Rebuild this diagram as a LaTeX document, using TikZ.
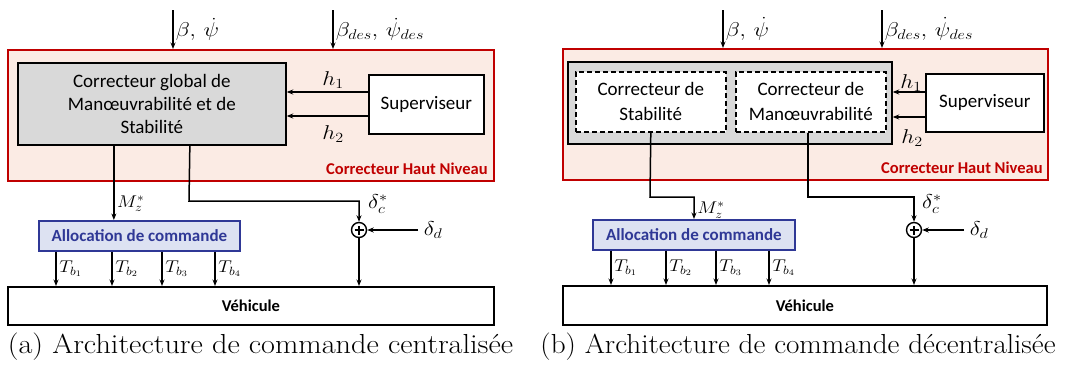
\RequirePackage{fix-cm}
\documentclass[tikz,border=0pt]{standalone}
\usepackage{fontspec}
\newfontfamily\carl{Carlito}
\usetikzlibrary{arrows.meta}
\definecolor{hlred}{RGB}{192,0,0}
\definecolor{hlfill}{RGB}{251,235,228}
\definecolor{grayfill}{RGB}{217,217,217}
\definecolor{alblue}{RGB}{47,56,150}
\definecolor{alfill}{RGB}{221,226,242}
\newcommand\mx[1]{\scalebox{1.15}[1]{$#1$}}
\newcommand\tx[1]{\scalebox{1.12}[1]{$#1$}}
\begin{document}
\begin{tikzpicture}[x=1pt,y=-1pt,
  arr/.style={-{Stealth[length=6.5pt,width=5pt]}, line width=1.5pt},
  hlbox/.style={draw=hlred, fill=hlfill, line width=1.8pt, anchor=north west, inner sep=0pt},
  hltext/.style={text=hlred, font=\carl\bfseries\fontsize{16.5}{19}\selectfont, inner sep=0pt},
  boxtext/.style={font=\carl\fontsize{19}{23}\selectfont, align=center},
  graybox/.style={boxtext, draw=black, fill=grayfill, line width=1.7pt, anchor=north west, inner sep=0pt},
  whitebox/.style={boxtext, draw=black, fill=white, line width=1.7pt, anchor=north west, inner sep=0pt},
  dashbox/.style={boxtext, font=\carl\fontsize{19}{25}\selectfont, draw=black, fill=white, line width=1.6pt, dash pattern=on 5pt off 3pt, anchor=north west, inner sep=0pt},
  allocbox/.style={draw=alblue, fill=alfill, line width=1.7pt, anchor=north west, inner sep=0pt, text=alblue, font=\carl\bfseries\fontsize{17}{19}\selectfont},
  vehbox/.style={draw=black, fill=white, line width=1.8pt, anchor=north west, inner sep=0pt, font=\carl\bfseries\fontsize{16.5}{19}\selectfont},
  sumnode/.style={circle, draw=black, fill=white, line width=1.4pt, minimum size=15pt, inner sep=0pt,
    path picture={\draw[line width=1.1pt] ([xshift=-4.5pt]path picture bounding box.center) -- ([xshift=4.5pt]path picture bounding box.center);
                  \draw[line width=1.1pt] ([yshift=-4.5pt]path picture bounding box.center) -- ([yshift=4.5pt]path picture bounding box.center);}},
  mlbl/.style={font=\fontsize{20}{22}\selectfont, inner sep=2pt},
  tlbl/.style={font=\fontsize{17}{19}\selectfont, inner sep=2.5pt},
  captext/.style={font=\fontsize{27.5}{30}\selectfont, inner sep=0pt, anchor=base}
]
\useasboundingbox (0,0) rectangle (1068,372);

% ================= LEFT PANEL =================
\node[hlbox, minimum width=486pt, minimum height=131pt] (hl1) at (7,49) {};
\node[hltext, anchor=south east] (hlt1) at ([shift={(-7pt,7pt)}]hl1.south east) {Correcteur Haut Niveau};
\node[graybox, minimum width=268pt, minimum height=82pt] (gc1) at (17,62) {Correcteur global de\\Manœuvrabilité et de\\Stabilité};
\node[whitebox, minimum width=115pt, minimum height=59pt] (sup1) at (368,74) {Superviseur};
\coordinate (yh1) at (0,92);
\coordinate (yh2) at (0,116);
\draw[arr] (sup1.west |- yh1) -- (gc1.east |- yh1);
\draw[arr] (sup1.west |- yh2) -- (gc1.east |- yh2);
\node[mlbl] (h1l) at (333,80) {\mx{h_1}};
\node[mlbl] (h2l) at (333,134) {\mx{h_2}};

\coordinate (in1a) at (173,10);
\coordinate (in1b) at (333,10);
\draw[arr] (in1a) -- (in1a |- hl1.north) node[midway, right, mlbl] {\mx{\beta,\,\dot\psi}};
\draw[arr] (in1b) -- (in1b |- hl1.north) node[midway, right, mlbl] {\mx{\beta_{des},\,\dot\psi_{des}}};

\node[allocbox, minimum width=201pt, minimum height=30pt] (al1) at (38,220) {Allocation de commande};
\node[vehbox, minimum width=486pt, minimum height=38pt] (veh1) at (7,286) {Véhicule};
\node[sumnode] (sum1) at (359,230) {};

\coordinate (o1a) at ([xshift=-38pt]gc1.south);
\coordinate (o1b) at ([xshift=38pt]gc1.south);
\draw[arr] (o1a) -- (o1a |- al1.north) node[pos=0.78, right, tlbl] {\tx{M_z^*}};
\coordinate (bend1) at (189,201);
\draw[arr] (o1b) -- (bend1) -| (sum1);
\node[mlbl, anchor=south west, inner sep=0pt] (dc1) at ([shift={(9pt,8pt)}]sum1.north) {\mx{\delta_c^*}};
\coordinate (dd1) at (418,230);
\draw[arr] (dd1) node[right, mlbl, inner sep=5pt] (ddl1) {\mx{\delta_d}} -- (sum1);
\draw[arr] (sum1) -- (sum1 |- veh1.north);
\foreach \x/\i in {56/1,112/2,162/3,215/4}{
  \coordinate (tcx) at (\x,0);
  \draw[arr] (tcx |- al1.south) -- (tcx |- veh1.north) node[midway, right, tlbl] {\tx{T_{b_\i}}};
}
\node[captext] (cap1) at (260.5,353) {\scalebox{1.1}[1]{(a) Architecture de commande centralisée}};

% ================= RIGHT PANEL =================
\node[hlbox, minimum width=485pt, minimum height=131pt] (hl2) at (562,48) {};
\node[hltext, anchor=south east] (hlt2) at ([shift={(-6pt,7pt)}]hl2.south east) {Correcteur Haut Niveau};
\node[graybox, minimum width=324pt, minimum height=82pt] (gc2) at (567,61) {};
\node[dashbox, minimum width=150pt, minimum height=60pt] (ds2a) at (575,71) {Correcteur de\\Stabilité};
\node[dashbox, minimum width=150pt, minimum height=60pt] (ds2b) at (735,71) {Correcteur de\\Manœuvrabilité};
\node[whitebox, minimum width=118pt, minimum height=58pt] (sup2) at (925,73) {Superviseur};
\coordinate (yh3) at (0,92);
\coordinate (yh4) at (0,117);
\draw[arr] (sup2.west |- yh3) -- (gc2.east |- yh3);
\draw[arr] (sup2.west |- yh4) -- (gc2.east |- yh4);
\node[mlbl] (h3l) at (911,83) {\mx{h_1}};
\node[mlbl] (h4l) at (912,138) {\mx{h_2}};

\coordinate (in2a) at (723,10);
\coordinate (in2b) at (882,10);
\draw[arr] (in2a) -- (in2a |- hl2.north) node[midway, right, mlbl] {\mx{\beta,\,\dot\psi}};
\draw[arr] (in2b) -- (in2b |- hl2.north) node[midway, right, mlbl] {\mx{\beta_{des},\,\dot\psi_{des}}};

\node[allocbox, minimum width=202pt, minimum height=30pt] (al2) at (592,219) {Allocation de commande};
\node[vehbox, minimum width=484pt, minimum height=39pt] (veh2) at (562,285) {Véhicule};
\node[sumnode] (sum2) at (914,230) {};

\coordinate (bend2a) at (650,197);
\coordinate (bend2b) at (694,197);
\draw[arr] (ds2a.south) -- (bend2a) -- (bend2b) -- (bend2b |- al2.north) node[pos=0.6, right, tlbl] {\tx{M_z^*}};
\coordinate (bend2c) at (808,197);
\draw[arr] (ds2b.south -| bend2c) -- (bend2c) -| (sum2);
\node[mlbl, anchor=south west, inner sep=0pt] (dc2) at ([shift={(8pt,8pt)}]sum2.north) {\mx{\delta_c^*}};
\coordinate (dd2) at (964,230);
\draw[arr] (dd2) node[right, mlbl, inner sep=5pt] (ddl2) {\mx{\delta_d}} -- (sum2);
\draw[arr] (sum2) -- (sum2 |- veh2.north);
\foreach \x/\i in {611/1,666/2,716/3,769/4}{
  \coordinate (tcx) at (\x,0);
  \draw[arr] (tcx |- al2.south) -- (tcx |- veh2.north) node[midway, right, tlbl] {\tx{T_{b_\i}}};
}
\node[captext] (cap2) at (798,353) {\scalebox{1.06}[1]{(b) Architecture de commande décentralisée}};
\end{tikzpicture}
\end{document}
